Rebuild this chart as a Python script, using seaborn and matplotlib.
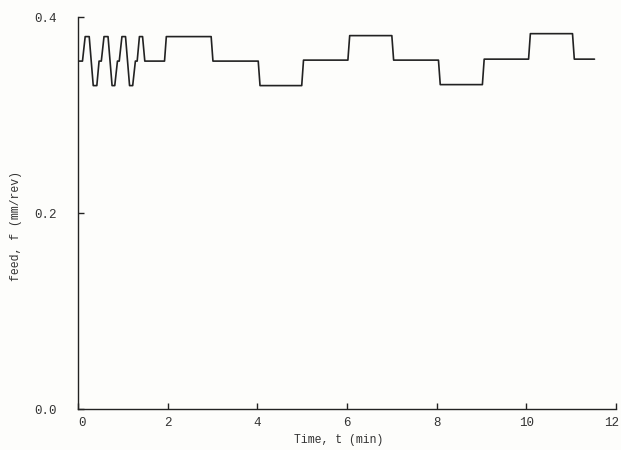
import matplotlib
matplotlib.use("Agg")
import matplotlib.pyplot as plt
from matplotlib.transforms import ScaledTranslation
import seaborn as sns
import pandas as pd

# Data
time_min = [0.00, 0.10, 0.16, 0.25, 0.34, 0.42, 0.47, 0.52, 0.58, 0.67,
            0.76, 0.82, 0.88, 0.92, 0.98, 1.06, 1.15, 1.22, 1.28, 1.32,
            1.37, 1.44, 1.49, 1.93, 1.97, 2.97, 3.01, 4.02, 4.06, 4.99,
            5.03, 6.02, 6.06, 7.00, 7.04, 8.04, 8.08, 9.02, 9.06, 10.05,
            10.09, 11.03, 11.07, 11.52]
feed = [0.355, 0.355, 0.380, 0.380, 0.330, 0.330, 0.355, 0.355, 0.380, 0.380,
        0.330, 0.330, 0.355, 0.355, 0.380, 0.380, 0.330, 0.330, 0.355, 0.355,
        0.380, 0.380, 0.355, 0.355, 0.380, 0.380, 0.355, 0.355, 0.330, 0.330,
        0.356, 0.356, 0.381, 0.381, 0.356, 0.356, 0.331, 0.331, 0.357, 0.357,
        0.383, 0.383, 0.357, 0.357]
x_ticks = [0, 2, 4, 6, 8, 10, 12]
y_ticks = [0.0, 0.2, 0.4]
y_tick_labels = ["0.0", "0.2", "0.4"]
x_label = "Time, t (min)"
y_label = "feed, f (mm/rev)"

df = pd.DataFrame({"t": time_min, "f": feed})

sns.set_theme(style="ticks")
plt.rcParams["font.family"] = ["Liberation Mono", "DejaVu Sans Mono"]
text_color = "#333333"

fig = plt.figure(figsize=(6.21, 4.5), dpi=100)
fig.patch.set_facecolor("#fdfdfb")
ax = fig.add_axes([78 / 621, 1 - 409 / 450, (616 - 78) / 621, (409 - 17) / 450])
ax.set_facecolor("#fdfdfb")

sns.lineplot(data=df, x="t", y="f", ax=ax, estimator=None, sort=False,
             color="#222222", linewidth=1.2)

ax.set_xlim(0, 12)
ax.set_ylim(0, 0.4)
ax.set_xticks(x_ticks)
ax.set_xticklabels([str(v) for v in x_ticks])
ax.set_yticks(y_ticks)
ax.set_yticklabels(y_tick_labels)

sns.despine(ax=ax, top=True, right=True)
for s in ("left", "bottom"):
    ax.spines[s].set_color("#222222")
    ax.spines[s].set_linewidth(1.0)

ax.tick_params(axis="both", direction="in", length=4, width=1.0,
               colors="#222222", labelcolor=text_color, labelsize=9)
ax.tick_params(axis="y", pad=15)
ax.tick_params(axis="x", pad=6)

# small horizontal nudges of the end tick labels, as in the reference
xt_labels = ax.get_xticklabels()
xt_labels[0].set_transform(xt_labels[0].get_transform()
                           + ScaledTranslation(4 / 100, 0, fig.dpi_scale_trans))
xt_labels[-1].set_transform(xt_labels[-1].get_transform()
                            + ScaledTranslation(-4 / 100, 0, fig.dpi_scale_trans))

ax.set_xlabel(x_label, fontsize=8.3, color=text_color)
ax.set_ylabel(y_label, fontsize=8.3, color=text_color)
ax.xaxis.set_label_coords((339 - 78) / 538, (409 - 440) / 392)
ax.yaxis.set_label_coords((16 - 78) / 538, 1 - (226 - 17) / 392)
ax.xaxis.label.set_verticalalignment("center")
ax.yaxis.label.set_verticalalignment("center")

fig.savefig("out.png", dpi=100, facecolor=fig.get_facecolor())
